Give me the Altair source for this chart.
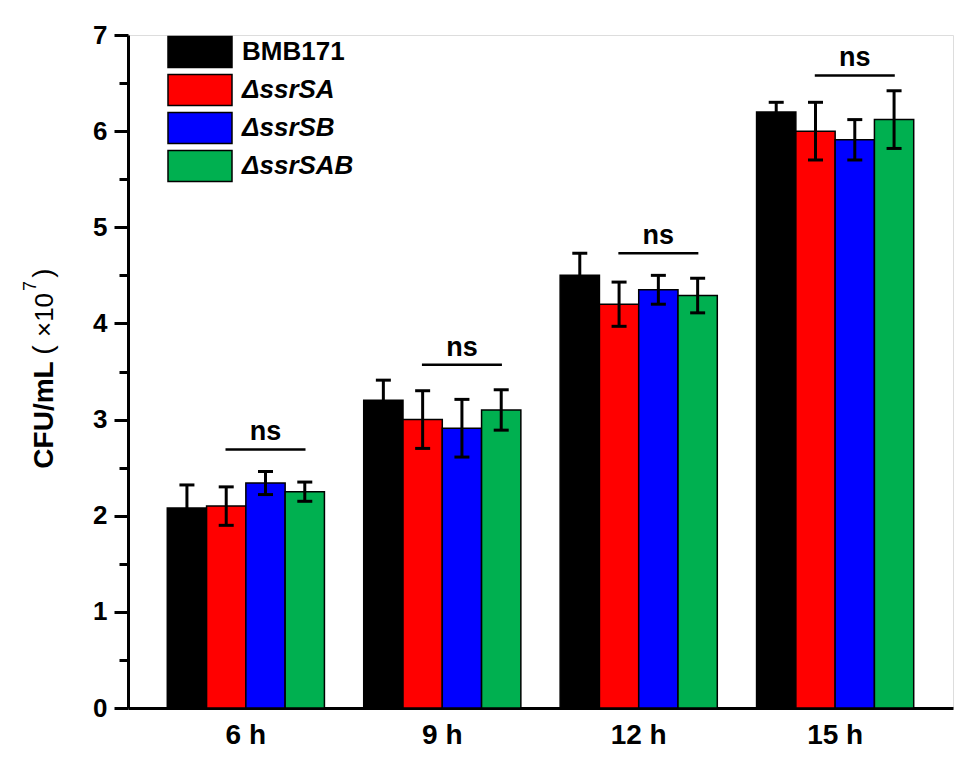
import altair as alt
import pandas as pd

times = ["6 h", "9 h", "12 h", "15 h"]
strains = ["BMB171", "ΔssrSA", "ΔssrSB", "ΔssrSAB"]
colors = ["#000000", "#FF0000", "#0000FF", "#00B050"]

means = {
    "BMB171": [2.08, 3.20, 4.50, 6.20],
    "ΔssrSA": [2.10, 3.00, 4.20, 6.00],
    "ΔssrSB": [2.34, 2.91, 4.35, 5.91],
    "ΔssrSAB": [2.25, 3.10, 4.29, 6.12],
}
errors = {
    "BMB171": [0.24, 0.21, 0.23, 0.10],
    "ΔssrSA": [0.20, 0.30, 0.23, 0.30],
    "ΔssrSB": [0.12, 0.30, 0.15, 0.21],
    "ΔssrSAB": [0.10, 0.21, 0.18, 0.30],
}
ns_level = [2.69, 3.57, 4.73, 6.58]
ns_label = ["ns", "ns", "ns", "ns"]

rows = []
for s in strains:
    for i, t in enumerate(times):
        m = means[s][i]
        e = errors[s][i]
        rows.append({"time": t, "strain": s, "mean": m, "lo": m - e, "hi": m + e})
df = pd.DataFrame(rows)
ns_df = pd.DataFrame({"time": times, "strain": ["ΔssrSB"] * 4, "level": ns_level, "label": ns_label})

FONT = "Liberation Sans"

x_enc = alt.X("time:N", sort=times,
              scale=alt.Scale(paddingInner=0.2, paddingOuter=0.2),
              axis=alt.Axis(title=None, ticks=False, labelPadding=13, labelFontSize=28,
                            labelFont=FONT, labelFontWeight="bold", labelColor="black",
                            labelAngle=0, domainWidth=3, domainColor="black"))
xo_enc = alt.XOffset("strain:N", sort=strains,
                     scale=alt.Scale(domain=strains, paddingInner=0, paddingOuter=0))
y_vals = [i * 0.5 for i in range(15)]
y_scale = alt.Scale(domain=[0, 7], nice=False, zero=True)

base = alt.Chart(df)

bars = base.mark_bar(stroke="black", strokeWidth=1.5, opacity=1).encode(
    x=x_enc,
    xOffset=xo_enc,
    y=alt.Y("mean:Q", scale=y_scale,
            axis=alt.Axis(title=None, values=y_vals, grid=False,
                          labelExpr="datum.value % 1 === 0 ? format(datum.value, 'd') : ''",
                          labelFontSize=26, labelFont=FONT, labelFontWeight="bold",
                          labelColor="black", labelPadding=7, labelOverlap=False,
                          tickSize={"condition": {"test": "datum.value % 1 === 0", "value": 14}, "value": 9},
                          tickWidth=3, tickColor="black", domainWidth=3, domainColor="black")),
    color=alt.Color("strain:N", sort=strains,
                    scale=alt.Scale(domain=strains, range=colors),
                    legend=alt.Legend(
                        title=None, orient="none", legendX=55, legendY=0,
                        symbolType="M-2,-0.968H2V0.968H-2Z", symbolSize=1024,
                        symbolStrokeColor="black", symbolStrokeWidth=1.5,
                        labelFontSize=26, labelFont=FONT, labelFontWeight="bold",
                        labelColor="black", labelOffset=25, rowPadding=0,
                        labelFontStyle=alt.ExprRef(
                            "datum.value === 'BMB171' ? 'normal' : 'italic'"),
                    )),
)

pos = dict(x=alt.X("time:N", sort=times), xOffset=alt.XOffset("strain:N", sort=strains))

err = base.mark_rule(color="black", strokeWidth=3, opacity=1).encode(**pos, y="lo:Q", y2="hi:Q")
cap_lo = base.mark_tick(color="black", thickness=3, size=15, opacity=1).encode(**pos, y="lo:Q")
cap_hi = base.mark_tick(color="black", thickness=3, size=15, opacity=1).encode(**pos, y="hi:Q")

ns_line = alt.Chart(ns_df).mark_tick(color="black", thickness=2.5, size=80, opacity=1).encode(
    **pos, y="level:Q")
ns_text = alt.Chart(ns_df).mark_text(font=FONT, fontWeight="bold", fontSize=27,
                                     baseline="alphabetic", dy=-9, color="black").encode(
    **pos, y="level:Q", text="label:N")


def vtext(s, size, weight, xv, yv):
    return alt.Chart(pd.DataFrame({"t": [s]})).mark_text(
        font=FONT, fontWeight=weight, fontSize=size, angle=270, align="center",
        baseline="middle", color="black").encode(
        text="t:N", x=alt.value(xv), y=alt.value(yv))


title_parts = [
    vtext("CFU/mL", 28, "bold", -83, 380),
    vtext("(", 28, "normal", -84, 315),
    vtext("×10", 26, "normal", -83, 280),
    vtext("7", 18, "normal", -97, 251),
    vtext(")", 28, "normal", -84, 238),
]

chart = alt.layer(bars, err, cap_lo, cap_hi, ns_line, ns_text, *title_parts).properties(
    width=825, height=673, autosize="none",
    padding={"left": 120, "top": 27, "right": 10, "bottom": 50},
).configure_view(stroke=None).configure(background="white")

chart.save("out.html", embed_options={"renderer": "svg", "actions": False})
